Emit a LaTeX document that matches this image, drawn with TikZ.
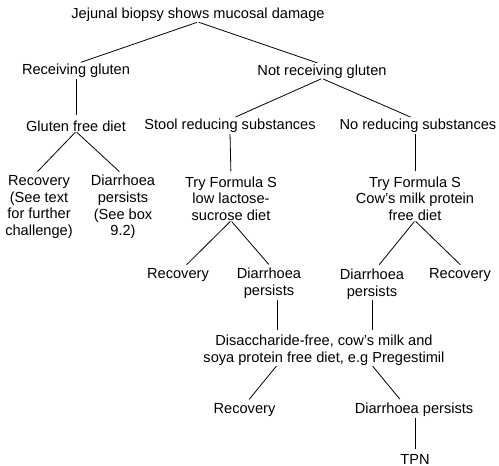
\documentclass[tikz,border=0pt]{standalone}
\usepackage{fontspec}
\setmainfont{Liberation Sans}
\begin{document}
\begin{tikzpicture}[x=1pt,y=-1pt,
  lbl/.style={inner sep=0pt, align=center, font=\fontsize{14.6}{16.7}\selectfont},
  conn/.style={line width=0.8pt, shorten <=1pt, shorten >=5pt}]
\useasboundingbox (0,0) rectangle (499,466);
\node[lbl] (top) at (198,15) {Jejunal biopsy shows mucosal damage};
\node[lbl] (recg) at (76,71) {Receiving gluten};
\node[lbl] (notg) at (322,71.5) {Not receiving gluten};
\node[lbl] (gfd) at (76,126) {Gluten free diet};
\node[lbl] (stool) at (230,126) {Stool reducing substances};
\node[lbl] (noreduc) at (418,126) {No reducing substances};
\node[lbl] (rec1) at (39,207) {Recovery\\(See text\\for further\\challenge)};
\node[lbl] (dia1) at (123,207) {Diarrhoea\\persists\\(See box\\9.2)};
\node[lbl] (tryA) at (231,198.5) {Try Formula S\\low lactose-\\sucrose diet};
\node[lbl] (tryB) at (415,198.5) {Try Formula S\\Cow’s milk protein\\free diet};
\node[lbl] (rec2) at (178,275) {Recovery};
\node[lbl] (dia2) at (269,283.5) {Diarrhoea\\persists};
\node[lbl] (dia3) at (372,284) {Diarrhoea\\persists};
\node[lbl] (rec3) at (460,275) {Recovery};
\node[lbl] (dis) at (324,350) {Disaccharide-free, cow’s milk and\\soya protein free diet, e.g Pregestimil};
\node[lbl] (rec4) at (244.5,410) {Recovery};
\node[lbl] (dia4) at (414,410) {Diarrhoea persists};
\node[lbl] (tpn) at (415,459.2) {TPN};

\draw[conn] (top.south) -- (recg.north);
\draw[conn] (top.south) -- (notg.north);
\draw[conn] (recg.south) -- (gfd.north);
\draw[conn] (notg.south) -- ([xshift=1pt]stool.north);
\draw[conn] (notg.south) -- ([xshift=-3pt]noreduc.north);
\draw[conn] (gfd.south) -- ([xshift=-5pt]rec1.north);
\draw[conn] (gfd.south) -- (dia1.north);
\draw[conn] (stool.south) -- (tryA.north);
\draw[conn] ([xshift=-3pt]noreduc.south) -- (tryB.north);
\draw[conn] (tryA.south) -- ([xshift=5pt]rec2.north);
\draw[conn] (tryA.south) -- ([xshift=3pt]dia2.north);
\draw[conn] (tryB.south) -- ([xshift=4pt]dia3.north);
\draw[conn] (tryB.south) -- ([xshift=4pt]rec3.north);
\draw[conn] ([xshift=8pt]dia2.south) -- ([xshift=-47pt]dis.north);
\draw[conn] (dia3.south) -- ([xshift=48pt]dis.north);
\draw[conn] ([xshift=-47pt]dis.south) -- ([xshift=1.5pt]rec4.north);
\draw[conn] ([xshift=48pt]dis.south) -- ([xshift=-11pt]dia4.north);
\draw[conn] ([xshift=1pt]dia4.south) -- (tpn.north);
\end{tikzpicture}
\end{document}
